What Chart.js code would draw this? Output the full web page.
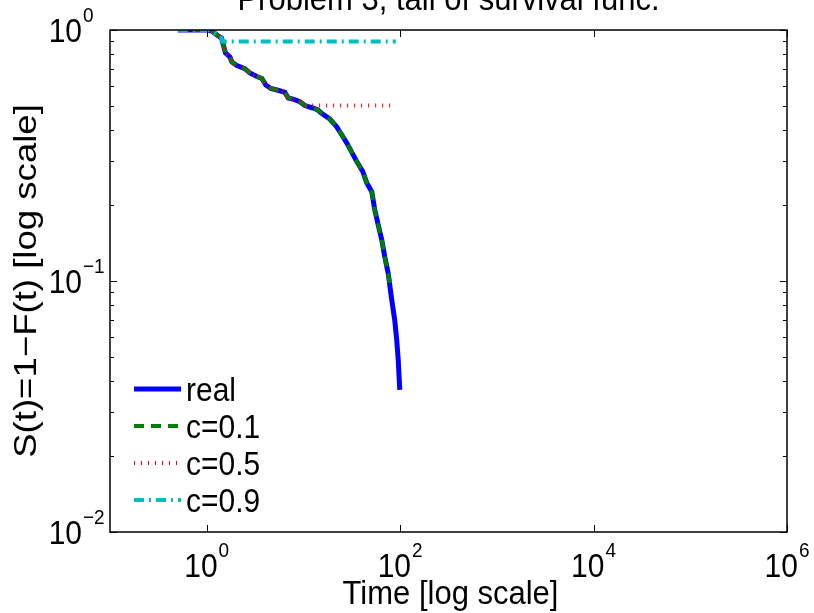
<!DOCTYPE html>
<html>
<head>
<meta charset="utf-8">
<script src="https://cdn.jsdelivr.net/npm/chart.js@4"></script>
<style>
  html, body { margin: 0; padding: 0; background: #fff; }
</style>
</head>
<body>
<canvas id="chart" width="814" height="613"></canvas>
<script>
// survival curve (time, S(t))
const realT = [0.504, 1.005, 1.13, 1.275, 1.425, 1.488, 1.561, 1.736, 1.821, 2.051,
  2.481, 2.795, 3.30, 3.72, 4.09, 4.60, 5.57, 6.43, 6.98, 7.96,
  9.18, 10.34, 12.51, 14.09, 15.50, 18.74, 22.13, 28.07, 35.62, 41.08,
  45.18, 50.89, 54.64, 59.39, 64.55, 69.33, 75.37, 81.9, 87.9, 92.2,
  95.6, 99.1];
const realS = [1.0, 1.0, 0.991, 0.955, 0.929, 0.871, 0.810, 0.781, 0.746, 0.722,
  0.702, 0.674, 0.653, 0.641, 0.604, 0.585, 0.574, 0.564, 0.536, 0.529,
  0.518, 0.500, 0.489, 0.480, 0.465, 0.442, 0.411, 0.355, 0.299, 0.273,
  0.246, 0.227, 0.192, 0.167, 0.146, 0.125, 0.107, 0.084, 0.0699, 0.0582,
  0.0484, 0.0368];

// truncated curves: follow the real one down to level c, then flat
const cLabels = ['c=0.1', 'c=0.5', 'c=0.9'];
const cLevels = [0.1, 0.5, 0.9];
const cStartT = [77, 10.3, 1.45];
const cEndT = [90, 90, 90];

const xTicks = [1, 100, 1e4, 1e6];
const xTickExp = ['0', '2', '4', '6'];
const yTicks = [1, 0.1, 0.01];
const yTickExp = ['0', '\u22121', '\u22122'];

const FONT = '"Liberation Sans", Arial, sans-serif';

function realPoints() {
    return realT.map((t, i) => ({ x: t, y: realS[i] }));
}

function cPoints(k) {
    const pts = [];
    realT.forEach((t, i) => {
        if (realS[i] > cLevels[k] && t < cStartT[k]) pts.push({ x: t, y: realS[i] });
    });
    pts.push({ x: cStartT[k], y: cLevels[k] });
    pts.push({ x: cEndT[k], y: cLevels[k] });
    return pts;
}

const styles = [
    { label: 'real', color: 'rgb(0,0,255)', width: 5, dash: [] },
    { label: cLabels[0], color: 'rgb(0,128,0)', width: 4, dash: [10, 7] },
    { label: cLabels[1], color: 'rgb(255,0,0)', width: 4, dash: [1, 6] },
    { label: cLabels[2], color: 'rgb(0,191,191)', width: 4, dash: [10, 5, 2, 5] }
];

const datasets = [
    { data: realPoints() },
    { data: cPoints(0) },
    { data: cPoints(1) },
    { data: cPoints(2) }
].map((d, i) => Object.assign(d, {
    label: styles[i].label,
    borderColor: styles[i].color,
    borderWidth: styles[i].width,
    borderDash: styles[i].dash,
    showLine: true,
    pointRadius: 0,
    fill: false,
    tension: 0,
    order: 3 - i
}));

// text with a small vertical stretch, like the exported figure
function txt(ctx, s, x, y, size, align, sy) {
    ctx.save();
    ctx.font = size + 'px ' + FONT;
    ctx.textAlign = align;
    ctx.translate(x, y);
    ctx.scale(1, sy);
    ctx.fillText(s, 0, 0);
    ctx.restore();
}

// axes box, inside ticks, labels, title and legend in MATLAB style
const matlabAxes = {
    id: 'matlabAxes',
    afterDraw(chart) {
        const ctx = chart.ctx;
        const a = chart.chartArea;
        const xs = chart.scales.x, ys = chart.scales.y;
        ctx.save();
        ctx.strokeStyle = '#000';
        ctx.fillStyle = '#000';
        ctx.textBaseline = 'alphabetic';

        // box
        ctx.lineWidth = 1.5;
        ctx.strokeRect(a.left, a.top, a.right - a.left, a.bottom - a.top);

        // x ticks (top and bottom)
        ctx.lineWidth = 1;
        ctx.beginPath();
        xTicks.forEach(v => {
            const px = Math.round(xs.getPixelForValue(v)) + 0.5;
            ctx.moveTo(px, a.bottom); ctx.lineTo(px, a.bottom - 7);
            ctx.moveTo(px, a.top); ctx.lineTo(px, a.top + 7);
        });
        // y ticks, major and minor, both sides
        [0.01, 0.1].forEach(dec => {
            for (let m = 1; m <= 10; m++) {
                const py = Math.round(ys.getPixelForValue(m * dec)) + 0.5;
                const len = (m === 1 || m === 10) ? 7 : 4;
                ctx.moveTo(a.left, py); ctx.lineTo(a.left + len, py);
                ctx.moveTo(a.right, py); ctx.lineTo(a.right - len, py);
            }
        });
        ctx.stroke();

        // x tick labels
        xTicks.forEach((v, i) => {
            const px = xs.getPixelForValue(v);
            ctx.font = '30px ' + FONT;
            const wb = ctx.measureText('10').width;
            ctx.font = '19px ' + FONT;
            const we = ctx.measureText(xTickExp[i]).width;
            const x0 = px - (wb + we + 1) / 2;
            txt(ctx, '10', x0, a.bottom + 45, 30, 'left', 1.08);
            txt(ctx, xTickExp[i], x0 + wb + 1, a.bottom + 25, 19, 'left', 1.08);
        });

        // y tick labels
        yTicks.forEach((v, i) => {
            const py = ys.getPixelForValue(v);
            txt(ctx, '10', a.left - 28, py + 12, 30, 'right', 1.08);
            txt(ctx, yTickExp[i], a.left - 27, py - 8, 19, 'left', 1.08);
        });

        // title and axis labels
        const cx = (a.left + a.right) / 2;
        txt(ctx, 'Problem 3, tail of survival func.', cx, 10, 31, 'center', 1.08);
        txt(ctx, 'Time [log scale]', cx + 2, a.bottom + 72, 31, 'center', 1.08);
        ctx.save();
        ctx.translate(36, (a.top + a.bottom) / 2);
        ctx.rotate(-Math.PI / 2);
        ctx.scale(1.18, 1);
        ctx.font = '31px ' + FONT;
        ctx.textAlign = 'center';
        ctx.fillText('S(t)=1\u2212F(t) [log scale]', 0, 0);
        ctx.restore();

        // legend inside the axes, bottom left
        styles.forEach((s, i) => {
            const ly = 389 + i * 37;
            ctx.beginPath();
            ctx.strokeStyle = s.color;
            ctx.lineWidth = s.width;
            ctx.setLineDash(s.dash);
            ctx.moveTo(134, ly);
            ctx.lineTo(181, ly);
            ctx.stroke();
            ctx.setLineDash([]);
            txt(ctx, s.label, 186, ly + 12, 30, 'left', 1.08);
        });
        ctx.restore();
    }
};

const ctx = document.getElementById('chart').getContext('2d');
new Chart(ctx, {
    type: 'scatter',
    data: { datasets },
    options: {
        responsive: false,
        animation: false,
        devicePixelRatio: 1,
        layout: { padding: { left: 110, right: 27, top: 30, bottom: 81 } },
        plugins: { legend: { display: false }, tooltip: { enabled: false } },
        scales: {
            x: { type: 'logarithmic', min: 0.1, max: 1e6, display: false },
            y: { type: 'logarithmic', min: 0.01, max: 1, display: false }
        }
    },
    plugins: [matlabAxes]
});
</script>
</body>
</html>
